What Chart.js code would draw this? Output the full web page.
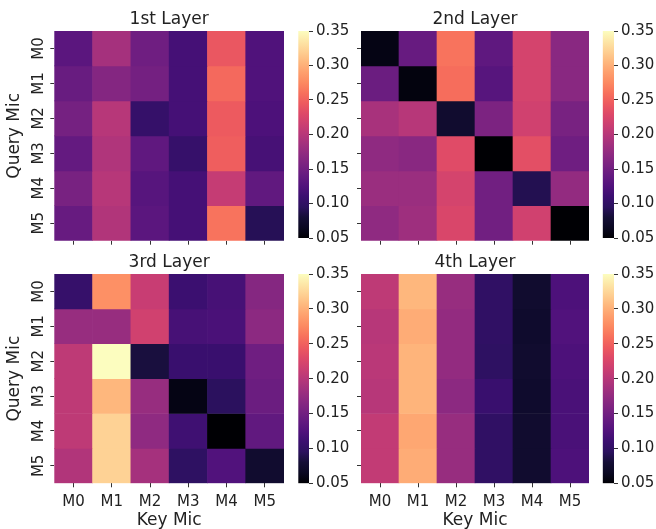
<!DOCTYPE html>
<html>
<head>
<meta charset="utf-8">
<script src="https://cdn.jsdelivr.net/npm/chart.js@4.4.1/dist/chart.umd.min.js"></script>
<style>
  body { margin: 0; background: #fff; }
  #fig { position: relative; width: 656px; height: 529px; }
  #fig canvas { position: absolute; }
</style>
</head>
<body>
<div id="fig">
  <canvas id="hm1" width="284" height="250" style="left:0;top:0"></canvas>
  <canvas id="cb1" width="66" height="250" style="left:290px;top:0"></canvas>
  <canvas id="hm2" width="249" height="250" style="left:340px;top:0"></canvas>
  <canvas id="cb2" width="62" height="250" style="left:594px;top:0"></canvas>
  <canvas id="hm3" width="284" height="279" style="left:0;top:250px"></canvas>
  <canvas id="cb3" width="66" height="279" style="left:290px;top:250px"></canvas>
  <canvas id="hm4" width="249" height="279" style="left:340px;top:250px"></canvas>
  <canvas id="cb4" width="62" height="279" style="left:594px;top:250px"></canvas>
</div>
<script>
const mics = ["M0", "M1", "M2", "M3", "M4", "M5"];

// rows = query mic, columns = key mic
const layer1 = [
  [0.133, 0.188, 0.148, 0.117, 0.242, 0.124],
  [0.143, 0.164, 0.152, 0.117, 0.255, 0.124],
  [0.153, 0.200, 0.104, 0.117, 0.245, 0.122],
  [0.140, 0.195, 0.137, 0.105, 0.248, 0.118],
  [0.155, 0.200, 0.130, 0.117, 0.210, 0.138],
  [0.142, 0.196, 0.133, 0.117, 0.262, 0.092],
];
const layer2 = [
  [0.058, 0.142, 0.262, 0.136, 0.222, 0.168],
  [0.145, 0.055, 0.258, 0.130, 0.222, 0.168],
  [0.190, 0.200, 0.075, 0.158, 0.218, 0.155],
  [0.172, 0.168, 0.232, 0.050, 0.235, 0.148],
  [0.180, 0.180, 0.222, 0.150, 0.090, 0.175],
  [0.172, 0.183, 0.226, 0.150, 0.218, 0.050],
];
const layer3 = [
  [0.105, 0.280, 0.212, 0.110, 0.118, 0.165],
  [0.178, 0.178, 0.218, 0.118, 0.120, 0.170],
  [0.205, 0.350, 0.083, 0.108, 0.108, 0.148],
  [0.205, 0.305, 0.178, 0.058, 0.095, 0.145],
  [0.205, 0.322, 0.172, 0.113, 0.050, 0.138],
  [0.196, 0.322, 0.188, 0.098, 0.125, 0.075],
];
const layer4 = [
  [0.205, 0.305, 0.178, 0.100, 0.075, 0.122],
  [0.200, 0.298, 0.175, 0.100, 0.073, 0.125],
  [0.202, 0.303, 0.175, 0.098, 0.075, 0.122],
  [0.200, 0.303, 0.170, 0.108, 0.073, 0.120],
  [0.208, 0.295, 0.178, 0.100, 0.075, 0.120],
  [0.208, 0.298, 0.178, 0.100, 0.075, 0.122],
];
const cbTicks = [0.05, 0.10, 0.15, 0.20, 0.25, 0.30, 0.35];
const vmin = 0.05, vmax = 0.35;

// magma colormap, 21 stops
const magma = [
  [0, 0, 4], [10, 8, 34], [20, 14, 54], [43, 17, 94], [59, 15, 112],
  [81, 18, 124], [100, 26, 128], [120, 34, 129], [140, 41, 129], [161, 48, 126],
  [183, 55, 121], [204, 63, 113], [222, 73, 104], [237, 90, 95], [247, 112, 92],
  [252, 137, 97], [254, 159, 109], [254, 183, 125], [254, 207, 146], [253, 230, 167],
  [252, 253, 191],
];

function shade(v) {
  let t = (v - vmin) / (vmax - vmin);
  t = Math.min(1, Math.max(0, t)) * (magma.length - 1);
  const i = Math.min(magma.length - 2, Math.floor(t)), f = t - i;
  const c = magma[i].map((a, k) => Math.round(a + (magma[i + 1][k] - a) * f));
  return `rgb(${c[0]},${c[1]},${c[2]})`;
}

const family = "'DejaVu Sans', sans-serif";
const ink = "#222";
const tickGrid = {
  display: true,
  drawOnChartArea: false,
  drawTicks: true,
  tickLength: 4,
  color: "#333",
  lineWidth: 1,
};

function heatmap(id, title, rows, o) {
  new Chart(document.getElementById(id), {
    type: "bar",
    data: {
      labels: mics,
      datasets: rows.map((row, r) => ({
        label: mics[r],
        data: mics.map(() => 1),
        backgroundColor: row.map(shade),
        borderWidth: 0,
        barPercentage: 1,
        categoryPercentage: 1,
      })),
    },
    options: {
      responsive: false,
      animation: false,
      layout: { padding: 0 },
      plugins: {
        legend: { display: false },
        tooltip: { enabled: false },
        title: {
          display: true,
          fullSize: false,
          text: title,
          color: ink,
          font: { family, size: 17, weight: "normal" },
          padding: o.titlePad,
        },
      },
      scales: {
        x: {
          stacked: true,
          grid: { ...tickGrid, offset: false },
          border: { display: false },
          ticks: { display: o.xLabels, color: ink, font: { family, size: 15 }, padding: 6 },
          title: {
            display: o.xLabels,
            text: "Key Mic",
            color: ink,
            font: { family, size: 17 },
            padding: { top: 0, bottom: -2 },
          },
          afterFit: (s) => { s.height = o.xh; },
        },
        y: {
          stacked: true,
          reverse: true,
          min: 0,
          max: mics.length,
          afterBuildTicks: (a) => { a.ticks = mics.map((m, i) => ({ value: i + 0.5 })); },
          grid: tickGrid,
          border: { display: false },
          ticks: {
            display: o.yLabels,
            autoSkip: false,
            minRotation: 90,
            maxRotation: 90,
            crossAlign: "center",
            padding: 0,
            color: ink,
            font: { family, size: 15 },
            callback: (v, i) => mics[i],
          },
          title: {
            display: o.yLabels,
            text: "Query Mic",
            color: ink,
            font: { family, size: 17 },
            padding: { top: 4.3, bottom: 0 },
          },
          afterFit: (s) => { s.width = o.yw; },
        },
      },
    },
  });
}

function colorbar(id, pad, axisWidth) {
  new Chart(document.getElementById(id), {
    type: "bar",
    data: {
      labels: [""],
      datasets: [{
        data: [[vmin, vmax]],
        borderWidth: 0,
        barPercentage: 1,
        categoryPercentage: 1,
        backgroundColor: (c) => {
          const area = c.chart.chartArea;
          if (!area) return null;
          const g = c.chart.ctx.createLinearGradient(0, area.bottom, 0, area.top);
          magma.forEach((m, i) => g.addColorStop(i / (magma.length - 1), `rgb(${m[0]},${m[1]},${m[2]})`));
          return g;
        },
      }],
    },
    options: {
      responsive: false,
      animation: false,
      layout: { padding: pad },
      plugins: { legend: { display: false }, tooltip: { enabled: false } },
      scales: {
        x: { display: false },
        y: {
          position: "right",
          min: vmin,
          max: vmax,
          afterBuildTicks: (a) => { a.ticks = cbTicks.map((v) => ({ value: v })); },
          grid: tickGrid,
          border: { display: false },
          ticks: {
            color: ink,
            font: { family, size: 15 },
            padding: 3,
            callback: (v) => v.toFixed(2),
          },
          afterFit: (s) => { s.width = axisWidth; },
        },
      },
    },
  });
}

const topPanel = { titlePad: { top: 9.8, bottom: 0.8 }, xh: 9.3, xLabels: false };
const bottomPanel = { titlePad: { top: 2.4, bottom: 1.2 }, xh: 45.7, xLabels: true };

heatmap("hm1", "1st Layer", layer1, { ...topPanel, yw: 54.3, yLabels: true });
heatmap("hm2", "2nd Layer", layer2, { ...topPanel, yw: 21, yLabels: false });
heatmap("hm3", "3rd Layer", layer3, { ...bottomPanel, yw: 54.3, yLabels: true });
heatmap("hm4", "4th Layer", layer4, { ...bottomPanel, yw: 21, yLabels: false });

colorbar("cb1", { top: 31, bottom: 9.3, left: 8.3 }, 47);
colorbar("cb2", { top: 31, bottom: 9.3, left: 8.7 }, 42);
colorbar("cb3", { top: 24, bottom: 45.7, left: 8.3 }, 47);
colorbar("cb4", { top: 24, bottom: 45.7, left: 8.7 }, 42);
</script>
</body>
</html>
